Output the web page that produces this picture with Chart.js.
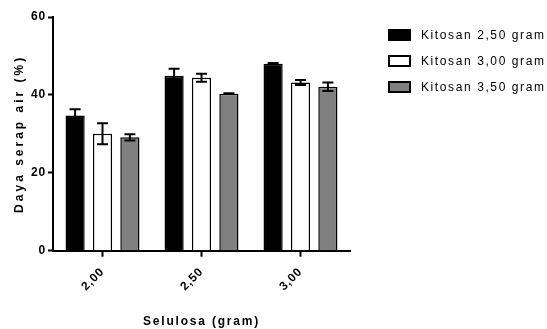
<!DOCTYPE html>
<html>
<head>
<meta charset="utf-8">
<script src="https://cdn.jsdelivr.net/npm/chart.js@4/dist/chart.umd.min.js"></script>
<style>
  body { margin: 0; background: #fff; }
  #wrap { position: relative; width: 547px; height: 329px; }
  #legend { position: absolute; left: 388px; top: 28px; font-family: "Liberation Sans", Arial, sans-serif; font-size: 12px; letter-spacing: 1.6px; color: #000; }
  .item { display: flex; align-items: center; height: 13px; margin-bottom: 13px; white-space: nowrap; }
  .box { width: 23px; height: 12px; box-sizing: border-box; border: 2px solid #000; margin-right: 10px; }
</style>
</head>
<body>
<div id="wrap">
  <canvas id="chart" width="547" height="329"></canvas>
  <div id="legend"></div>
</div>
<script>
// data
const categories = ['2,00', '2,50', '3,00'];
const seriesLabels = ['Kitosan 2,50 gram', 'Kitosan 3,00 gram', 'Kitosan 3,50 gram'];
const kitosan250 = [34.7, 44.9, 48.0];
const kitosan300 = [30.0, 44.4, 43.2];
const kitosan350 = [29.1, 40.3, 42.1];
const err250 = [1.6, 1.8, 0.2];
const err300 = [2.7, 1.0, 0.65];
const err350 = [0.8, 0.1, 1.1];
const yTicks = [0, 20, 40, 60];

const colors = ['#000000', '#ffffff', '#808080'];
const FONT = '"Liberation Sans", Arial, sans-serif';

// canvas has no letter-spacing option in Chart.js, so set it on the context
const spacing = {
  id: 'spacing',
  beforeUpdate(chart) { chart.ctx.letterSpacing = '0.8px'; },
  afterLayout(chart) {
    Object.values(chart.scales).forEach(scale => {
      if (scale._spaced) return;
      const drawTitle = scale.drawTitle;
      scale.drawTitle = function () {
        this.ctx.save();
        this.ctx.letterSpacing = this.options.title.spacing || '1px';
        drawTitle.call(this);
        this.ctx.restore();
      };
      scale._spaced = true;
    });
  }
};

const errorBars = {
  id: 'errorBars',
  afterDatasetsDraw(chart) {
    const { ctx, scales: { y } } = chart;
    ctx.save();
    ctx.strokeStyle = '#000';
    ctx.lineWidth = 2;
    chart.data.datasets.forEach((ds, i) => {
      chart.getDatasetMeta(i).data.forEach((bar, j) => {
        const v = ds.data[j], e = ds.errors[j];
        const top = y.getPixelForValue(v + e);
        const bottom = y.getPixelForValue(v - e);
        const x = bar.x;
        ctx.beginPath();
        ctx.moveTo(x, top); ctx.lineTo(x, bottom);
        ctx.moveTo(x - 5.5, top); ctx.lineTo(x + 5.5, top);
        ctx.moveTo(x - 5.5, bottom); ctx.lineTo(x + 5.5, bottom);
        ctx.stroke();
      });
    });
    ctx.restore();
  }
};

const values = [kitosan250, kitosan300, kitosan350];
const errors = [err250, err300, err350];

const datasets = seriesLabels.map((label, i) => ({
  label: label,
  data: values[i],
  errors: errors[i],
  backgroundColor: colors[i],
  borderColor: '#000',
  borderWidth: 1.5,
  categoryPercentage: 0.83,
  barPercentage: 0.7
}));

new Chart(document.getElementById('chart'), {
  type: 'bar',
  data: { labels: categories, datasets: datasets },
  options: {
    responsive: false,
    animation: false,
    layout: { padding: { top: 17, right: 197, bottom: 0, left: 0 } },
    plugins: { legend: { display: false }, tooltip: { enabled: false } },
    scales: {
      x: {
        afterFit: s => { s.height = 78.3; },
        grid: { drawOnChartArea: false, offset: false, tickLength: 6, tickColor: '#000', tickWidth: 2 },
        border: { color: '#000', width: 2 },
        ticks: { color: '#000', minRotation: 45, maxRotation: 45, padding: 8, font: { family: FONT, size: 12, weight: 'bold' } },
        title: { display: true, text: 'Selulosa (gram)', spacing: '1.8px', color: '#000', padding: { top: 0, bottom: 0 }, font: { family: FONT, size: 12, weight: 'bold' } }
      },
      y: {
        min: 0,
        max: 60,
        afterFit: s => { s.width = 53; },
        afterBuildTicks: s => { s.ticks = yTicks.map(v => ({ value: v })); },
        grid: { drawOnChartArea: false, tickLength: 5, tickColor: '#000', tickWidth: 2 },
        border: { color: '#000', width: 2 },
        ticks: { color: '#000', padding: 2, font: { family: FONT, size: 12, weight: 'bold' } },
        title: { display: true, text: 'Daya serap air (%)', spacing: '3px', color: '#000', padding: { top: 12, bottom: 0 }, font: { family: FONT, size: 12, weight: 'bold' } }
      }
    }
  },
  plugins: [spacing, errorBars]
});

// legend as html so it can sit freely to the right
const legend = document.getElementById('legend');
seriesLabels.forEach((label, i) => {
  const item = document.createElement('div');
  item.className = 'item';
  const box = document.createElement('span');
  box.className = 'box';
  box.style.background = colors[i];
  const text = document.createElement('span');
  text.textContent = label;
  item.appendChild(box);
  item.appendChild(text);
  legend.appendChild(item);
});
</script>
</body>
</html>
